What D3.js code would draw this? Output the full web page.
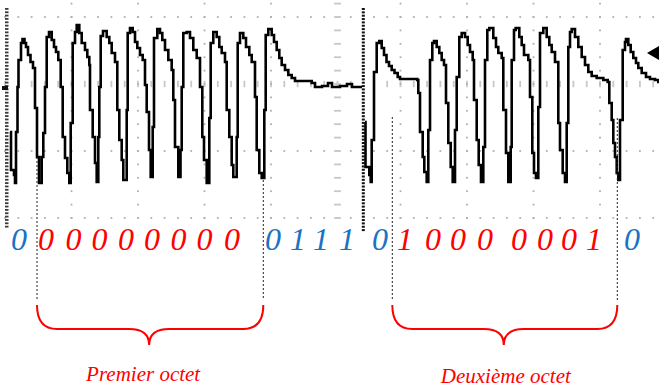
<!DOCTYPE html>
<html>
<head>
<meta charset="utf-8">
<script src="https://cdn.jsdelivr.net/npm/d3@7"></script>
<style>
  body { margin: 0; background: #fff; }
  svg { display: block; }
</style>
</head>
<body>
<svg id="chart" width="659" height="390"></svg>
<script>
// Two scope captures, put side by side. Time in samples (66.5 samples / div),
// level in ADC points (67 points / div, 0 = centre line).
const screen1Trace = [
  [5,-48],[6,-86],[9,-91],[10,-99],
  [11,-48],[12.5,-3],[13.5,24],[16,41],[17.5,45],[19.5,41],[21,37],[23,29],[25.5,22],[28,16],[30,-24],[32,-73],[34,-99],
  [36.7,-73],[38.3,-49],[40,-3],[41.7,47],[44,52],[46.7,44],[49,37],[51,32],[53.3,24],[55.7,-3],[57.7,-53],[60,-74],[62.3,-89],[64.3,-99],
  [65.7,-39],[67.7,41],[70,52],[71.7,59],[74.3,51],[76.7,41],[80,34],[82.3,27],[84.3,19],[85,-26],[87.7,-53],[90,-79],[91.7,-98],
  [93.3,-53],[94.3,-3],[95.7,48],[98,53],[101.7,47],[104.3,41],[106.7,31],[110,22],[112.3,-26],[114.3,-56],[116.7,-76],[118.3,-96],
  [121.7,-26],[122.7,51],[125,56],[127.7,52],[130,42],[132.3,36],[135,29],[137.7,24],[140,-1],[141.7,-28],[144,-66],[145.7,-93],
  [147.7,-43],[149,46],[152.3,55],[155,51],[157.3,44],[160,34],[163.3,24],[166.7,14],[168.3,-16],[170,-63],[173.3,-93],
  [175.5,-66],[176.7,-3],[178.3,51],[181.7,52],[185,46],[188.3,34],[191.7,26],[195,-3],[197.3,-53],[199,-76],[201.7,-99],
  [204.3,-34],[205.7,41],[208.3,52],[211.7,47],[214.3,37],[216.7,31],[220,22],[221.7,-26],[224.3,-53],[226.7,-81],[228.3,-93],
  [231.7,-53],[232.7,41],[235,51],[238.3,46],[241,37],[244.3,29],[246.7,22],[250,-13],[251.7,-66],[254.3,-89],[256.7,-94],
  [259.3,-26],[260.7,49],[263.3,55],[266.7,49],[269,42],[271.7,34],[274.3,26],[276.7,19],[280,14],[283.3,9],[286.7,6],[290,3],
  [306.7,1],[310,-3],[317,-2],[323,1],[327,-3],[335,-2],[342,0],[347,-3],[358,-3]
];
const screen2Trace = [
  [31,-38],[31.5,-83],[35.3,-91],[36.7,-98],
  [37.7,-56],[40,12],[42.7,41],[45.3,43],[47.7,36],[50,29],[52.5,22],[55,18],[57.7,14],[60.5,11],[63.7,7],[66,5],[83.3,4],[84.3,-9],[86,-48],[88.7,-73],[90.3,-88],[92.7,-98],
  [94.3,-46],[96,24],[98.3,41],[100,43],[102.7,37],[105.3,31],[107.7,24],[110,19],[112,-19],[114.3,-59],[116.7,-83],[118.7,-98],
  [121,-46],[122.7,7],[125.3,47],[127.7,51],[131,47],[133.7,39],[136,32],[138.7,24],[140,-16],[142.7,-56],[144.7,-81],[147,-98],
  [149.3,-63],[151,24],[153.3,54],[155.3,56],[159.3,46],[162,37],[164.3,31],[167.7,26],[169.3,-26],[172,-69],[174.3,-98],
  [176.7,-63],[177.7,24],[180,54],[181.7,56],[185.3,47],[187.7,39],[190,29],[194.3,24],[196,-13],[198.3,-69],[200,-89],[202,-94],
  [204.3,-23],[206,51],[209.3,56],[212.7,47],[215.3,39],[217.7,32],[221,22],[224.3,-39],[226,-66],[228.7,-89],[231,-98],
  [232.7,-39],[234.3,37],[236,52],[237.7,55],[241,47],[244.3,37],[247.7,27],[251,19],[254.3,12],[257.7,8],[262.7,6],[269.3,4],[273.7,2],
  [275.3,-19],[277.7,-36],[279.3,-59],[281,-73],[282.7,-89],[284.3,-96],
  [286,-36],[288.7,34],[291,42],[292,45],[294.3,39],[296.7,32],[299.3,26],[302,21],[304.3,16],[307.7,11],[312,7],[316,5],[321,4],[324.3,2],[330,2]
];

// bit labels under the trace
const bitLabels  = ["0","0","0","0","0","0","0","0","0","0","1","1","1","0","1","0","0","0","0","0","0","1","0"];
const bitKinds   = ["ctl","data","data","data","data","data","data","data","data","ctl","ctl","ctl","ctl","ctl","data","data","data","data","data","data","data","data","ctl"];
const bitScreens = [1,1,1,1,1,1,1,1,1,1,1,1,1,2,2,2,2,2,2,2,2,2,2];
const bitSamples = [14,41,68.5,94.6,121,147,173.6,199.6,227,268,293,316,342,46,71,99,124,151,185,211,235,260,298];

// octet boundaries: [screen, sample, level where the marker starts]
const octetNames = ["Premier octet", "Deuxième octet"];
const octetStart = [[1, 32, -73], [2, 58.3, -33]];
const octetEnd   = [[1, 258.3, -96], [2, 283.3, -34]];

const blue = "#1a72c4", red = "#ff0000";

const svg = d3.select("#chart");
const y = d3.scaleLinear().domain([-134, 67]).range([218, 17]);
const x1 = d3.scaleLinear().domain([0, 665]).range([5, 670]);
const x2 = d3.scaleLinear().domain([0, 665]).range([334, 999]);
const xs = {1: x1, 2: x2};

const defs = svg.append("defs");
defs.append("clipPath").attr("id", "clip1").append("rect")
  .attr("x", 0).attr("y", 0).attr("width", 362).attr("height", 232);
defs.append("clipPath").attr("id", "clip2").append("rect")
  .attr("x", 363).attr("y", 0).attr("width", 296).attr("height", 232);

function drawScreen(id, x, trace) {
  const g = svg.append("g").attr("clip-path", `url(#clip${id})`);
  const minor = d3.range(0, 680, 13.3);
  // dotted rows
  [67, -67, -134].forEach(v => {
    g.append("g").selectAll("rect").data(minor).join("rect")
      .attr("x", t => x(t) - 0.9).attr("y", y(v) - 0.9)
      .attr("width", 1.8).attr("height", 1.8).attr("fill", "#b0b0b0");
  });
  // centre row with tick bars
  g.append("g").selectAll("rect").data(minor).join("rect")
    .attr("x", t => x(t) - 0.9).attr("y", y(0) - 3.2)
    .attr("width", 1.8).attr("height", 6.4).attr("fill", "#c8c8c8");
  // dotted columns, centre column with tick bars
  const vMinor = d3.range(-1, 16).map(k => 67 - 13.4 * k);
  d3.range(1, 10).forEach(k => {
    const cx = x(66.5 * k);
    const centre = k === 5;
    g.append("g").selectAll("rect").data(vMinor).join("rect")
      .attr("x", centre ? cx - 3.5 : cx - 0.9)
      .attr("y", v => y(v) - 0.9)
      .attr("width", centre ? 7 : 1.8)
      .attr("height", 1.8)
      .attr("fill", centre ? "#c8c8c8" : "#b0b0b0");
  });
  // trace
  const line = d3.line().x(d => x(d[0])).y(d => y(d[1])).curve(d3.curveStepAfter);
  g.append("path").datum(trace).attr("d", line)
    .attr("fill", "none").attr("stroke", "#000").attr("stroke-width", 2.6);
  return g;
}

drawScreen(1, x1, screen1Trace);
drawScreen(2, x2, screen2Trace);

// left ruler of the first capture
svg.append("g").selectAll("rect").data(d3.range(8, 226, 3.35)).join("rect")
  .attr("x", 5).attr("y", d => d).attr("width", 3.5).attr("height", 1.8).attr("fill", "#3a3a3a");
svg.append("rect").attr("x", 2).attr("y", y(-4) - 2).attr("width", 6).attr("height", 4).attr("fill", "#111");

// edge of the second capture
svg.append("g").selectAll("rect").data(d3.range(8, 231, 3.35)).join("rect")
  .attr("x", 361.8).attr("y", d => d).attr("width", 3).attr("height", 2).attr("fill", "#111");

// trigger marker
svg.append("path")
  .attr("d", `M${x2(313)},${y(31)} L659,${y(31) - 7} L659,${y(31) + 7} Z`)
  .attr("fill", "#000");

// octet markers (dotted)
const markBottom = 300;
octetStart.concat(octetEnd).forEach(([s, t, v]) => {
  svg.append("line")
    .attr("x1", xs[s](t)).attr("x2", xs[s](t))
    .attr("y1", y(v)).attr("y2", markBottom)
    .attr("stroke", "#222").attr("stroke-width", 1).attr("stroke-dasharray", "2,2");
});

// bit labels
svg.append("g").selectAll("text").data(bitLabels).join("text")
  .attr("x", (d, i) => xs[bitScreens[i]](bitSamples[i]))
  .attr("y", 250)
  .attr("text-anchor", "middle")
  .attr("font-family", "'Liberation Serif', 'DejaVu Serif', serif")
  .attr("font-style", "italic")
  .attr("font-size", 32)
  .attr("fill", (d, i) => bitKinds[i] === "data" ? red : blue)
  .text(d => d);

// braces + names
const braceTop = 305, braceMid = 329, braceTip = 345;
const nameShift = [-6, 2];
octetNames.forEach((name, i) => {
  const a = xs[octetStart[i][0]](octetStart[i][1]);
  const b = xs[octetEnd[i][0]](octetEnd[i][1]);
  const m = (a + b) / 2 - 1;
  const r = 20;
  const p = d3.path();
  p.moveTo(a, braceTop);
  p.quadraticCurveTo(a, braceMid, a + r, braceMid);
  p.lineTo(m - r, braceMid);
  p.quadraticCurveTo(m, braceMid, m, braceTip);
  p.quadraticCurveTo(m, braceMid, m + r, braceMid);
  p.lineTo(b - r, braceMid);
  p.quadraticCurveTo(b, braceMid, b, braceTop);
  svg.append("path").attr("d", p.toString())
    .attr("fill", "none").attr("stroke", red).attr("stroke-width", 2);
  svg.append("text")
    .attr("x", m + nameShift[i]).attr("y", 381 + i * 2)
    .attr("text-anchor", "middle")
    .attr("font-family", "'Liberation Serif', 'DejaVu Serif', serif")
    .attr("font-style", "italic")
    .attr("font-size", 21)
    .attr("fill", red)
    .text(name);
});
</script>
</body>
</html>
